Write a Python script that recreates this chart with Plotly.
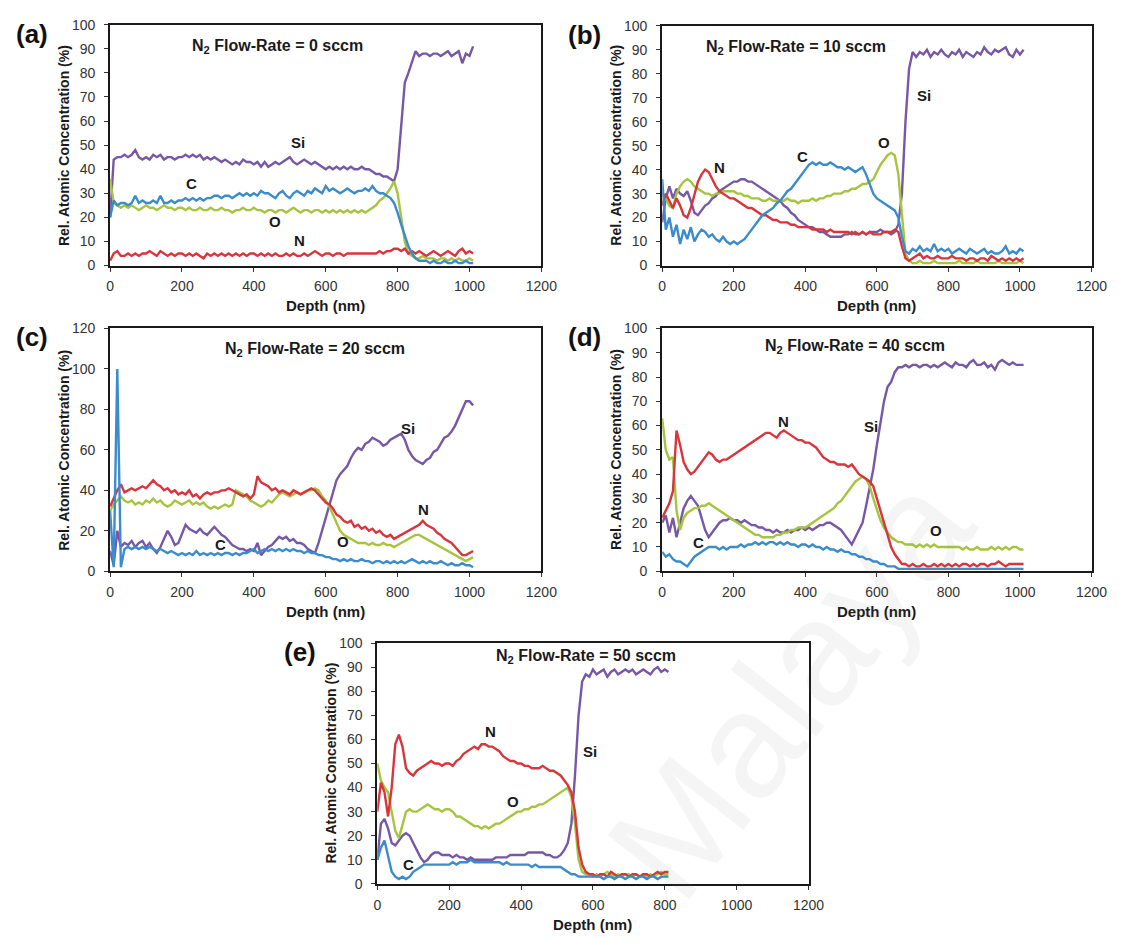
import plotly.graph_objects as go

# ---------------- data (depth in nm, concentrations in %) ----------------
depth_full = list(range(0, 1020, 10))   # 0 ... 1010
depth_e = list(range(0, 820, 10))       # 0 ... 810

# (a) N2 = 0 sccm
si_a = [20,44,45,45,46,45,46,48,45,44,
        45,44,46,45,46,44,45,45,44,45,
        45,46,45,46,45,46,44,45,44,45,
        44,43,44,43,42,43,42,44,43,43,
        42,43,41,43,41,42,43,42,43,44,
        45,43,42,43,44,43,42,43,42,41,
        40,41,40,41,40,41,40,41,40,40,
        41,40,40,39,38,38,37,37,36,35,
        40,58,76,80,85,89,87,88,88,87,
        88,88,87,88,89,87,88,89,84,88,
        87,91]
c_a = [20,27,25,26,26,25,26,29,26,27,
       26,26,27,26,29,26,26,27,26,27,
       27,28,27,28,27,28,27,28,28,29,
       29,28,29,29,28,29,30,29,30,29,
       30,29,31,30,30,29,28,30,31,29,
       28,30,31,30,29,31,30,32,31,30,
       33,31,32,31,30,31,32,31,30,31,
       31,32,31,33,31,30,30,29,28,26,
       22,17,12,8,5,3,2,2,2,1,
       2,1,1,2,1,1,2,1,1,2,
       1,1]
o_a = [36,26,25,24,25,24,25,24,23,24,
       25,24,24,23,24,25,24,24,23,24,
       24,23,24,23,23,24,23,23,24,23,
       23,24,23,23,22,23,23,24,23,23,
       24,23,23,22,23,23,22,23,23,22,
       23,24,23,22,23,23,22,23,23,22,
       23,22,23,22,23,22,23,22,23,22,
       23,22,23,24,25,27,28,30,32,35,
       30,20,10,5,4,3,3,4,3,3,
       3,2,3,3,2,3,2,3,2,2,
       3,2]
n_a = [2,5,6,4,4,5,4,5,4,5,
       5,6,5,4,6,5,4,5,4,5,
       5,4,5,4,5,4,3,5,4,5,
       4,5,4,5,4,5,4,5,4,5,
       5,4,5,4,5,4,5,4,4,5,
       4,5,4,4,5,4,5,6,5,4,
       5,5,4,5,5,4,5,5,5,5,
       5,5,5,5,5,6,5,6,6,7,
       7,6,7,5,6,5,6,5,4,5,
       6,5,4,5,6,5,4,6,7,5,
       6,5]

# (b) N2 = 10 sccm
si_b = [18,28,33,28,32,30,29,31,27,22,
        21,23,25,26,28,29,31,32,33,34,
        35,35,36,36,35,35,34,33,32,31,
        30,29,28,27,25,24,22,21,19,18,
        17,16,16,15,14,14,13,12,12,12,
        12,13,13,14,13,13,14,13,14,14,
        14,15,14,14,13,14,17,30,60,82,
        89,87,89,88,90,87,89,88,90,88,
        87,89,88,90,87,89,88,87,89,88,
        91,89,88,90,89,90,91,88,87,90,
        88,90]
c_b = [36,15,20,12,17,9,15,11,16,10,
       13,15,14,12,13,11,10,12,10,9,
       10,9,10,11,13,15,17,19,21,22,
       23,24,26,27,29,31,32,34,36,38,
       40,42,43,42,43,42,42,43,42,41,
       41,40,41,40,39,40,41,38,34,30,
       28,27,26,25,24,23,20,12,6,5,
       7,6,8,6,7,6,9,6,7,6,
       7,5,6,7,6,5,7,6,5,6,
       7,5,6,5,5,6,8,5,6,5,
       7,6]
o_b = [30,28,25,24,30,33,35,36,35,33,
       32,31,30,30,29,30,30,31,31,31,
       31,30,30,29,29,28,28,28,27,27,
       28,27,27,27,27,28,27,27,26,27,
       27,27,28,27,28,28,29,29,30,30,
       30,31,31,32,32,33,34,34,35,36,
       39,42,44,46,47,46,38,20,5,2,
       1,1,2,1,1,1,2,1,1,1,
       1,1,1,2,1,1,1,1,2,1,
       1,1,1,1,2,1,1,1,1,1,
       2,1]
n_b = [25,30,27,24,28,25,21,20,24,30,
       35,38,40,39,36,33,31,30,29,28,
       28,27,26,25,24,24,23,22,21,21,
       20,19,19,18,18,18,17,17,16,16,
       16,16,15,15,15,15,14,15,14,14,
       14,14,14,13,14,13,14,13,14,13,
       13,13,14,14,14,15,14,8,3,2,
       3,4,5,3,4,3,3,4,3,3,
       3,4,3,3,3,2,3,3,2,3,
       3,2,4,3,2,3,2,3,2,3,
       2,3]

# (c) N2 = 20 sccm
si_c = [10,3,20,12,14,13,15,12,14,15,
        12,14,11,9,12,16,20,17,13,14,
        19,23,21,20,19,21,19,18,20,22,
        20,18,17,15,13,12,11,11,10,11,
        10,14,8,10,12,13,15,17,16,17,
        15,16,14,14,13,11,10,9,14,20,
        27,33,39,45,48,50,52,56,59,61,
        60,63,64,66,65,64,62,63,65,66,
        67,68,65,60,57,55,54,53,55,56,
        59,60,63,66,67,69,72,76,80,84,
        84,82]
c_c = [30,2,100,2,11,12,11,12,11,12,
       11,12,11,10,11,10,9,10,9,8,
       9,8,9,8,10,8,9,8,9,8,
       9,8,9,9,8,9,8,9,9,10,
       11,9,10,11,10,11,10,11,10,11,
       10,11,10,10,9,10,9,9,8,8,
       7,7,6,6,5,6,5,6,5,5,
       6,5,5,4,5,5,4,5,4,5,
       4,5,4,5,6,5,4,5,4,5,
       4,4,5,4,3,4,3,3,4,3,
       3,2]
o_c = [30,33,35,37,35,34,35,33,34,33,
       35,34,36,34,35,33,32,33,35,34,
       33,34,35,33,34,33,34,32,31,32,
       31,32,33,32,33,40,39,38,37,35,
       34,33,32,33,35,34,36,38,39,38,
       37,38,39,38,39,40,40,41,40,37,
       35,32,28,24,20,18,17,16,15,14,
       14,14,13,14,13,13,14,13,13,12,
       13,14,15,16,17,18,18,17,16,15,
       14,13,12,11,10,9,8,7,6,5,
       6,7]
n_c = [32,36,40,43,39,40,41,40,41,42,
       41,43,45,43,42,40,41,39,40,38,
       39,38,40,37,38,36,38,39,38,39,
       39,40,40,41,40,39,38,37,38,36,
       38,47,44,43,42,40,41,39,40,39,
       38,40,39,38,39,40,41,40,38,36,
       34,33,31,28,27,25,24,25,22,23,
       21,22,20,21,19,20,18,17,18,16,
       17,18,19,20,21,22,23,25,23,22,
       21,19,18,16,15,14,12,10,8,8,
       9,10]

# (d) N2 = 40 sccm
si_d = [20,23,16,22,14,20,26,29,31,29,
        27,22,17,14,16,18,20,21,21,22,
        21,21,20,21,20,19,19,18,18,17,
        17,16,17,16,16,17,16,17,17,18,
        17,18,17,18,19,19,20,20,19,18,
        17,15,13,11,14,17,20,27,34,42,
        52,62,70,76,78,82,84,84,85,84,
        85,85,84,85,85,84,85,84,85,86,
        85,84,86,85,85,84,86,87,85,85,
        86,84,85,83,86,87,86,85,86,85,
        85,85]
c_d = [8,6,7,5,4,4,3,2,4,6,
       7,8,9,10,10,10,9,10,9,10,
       10,10,11,10,11,11,12,11,12,11,
       12,12,11,12,11,12,11,11,10,11,
       11,10,11,10,10,9,10,9,9,8,
       9,8,8,7,7,6,6,5,5,4,
       4,3,3,2,2,2,1,1,1,1,
       1,1,1,1,1,1,1,1,1,1,
       1,1,1,1,1,1,1,1,1,1,
       1,1,1,1,1,1,1,1,1,1,
       1,1]
o_d = [63,50,46,47,25,17,22,24,25,26,
       26,27,27,28,27,26,25,24,23,22,
       21,20,19,18,17,16,15,15,14,14,
       14,14,15,15,16,16,17,17,18,18,
       18,19,20,21,22,23,24,25,26,28,
       29,31,33,35,37,38,39,38,35,30,
       25,21,18,16,14,13,12,12,11,11,
       11,10,11,10,11,10,11,10,10,10,
       10,10,10,10,9,10,9,9,10,9,
       9,9,10,9,10,9,10,9,10,10,
       9,9]
n_d = [22,25,28,33,58,52,45,42,40,41,
       43,45,47,49,48,46,45,46,46,47,
       48,49,50,51,52,53,54,55,56,57,
       57,56,55,57,58,57,56,55,54,54,
       53,53,52,51,49,47,46,45,45,44,
       44,44,43,44,42,40,39,38,37,35,
       30,25,20,15,10,7,5,3,3,2,
       3,2,2,3,2,2,3,2,3,2,
       3,2,3,2,3,3,2,3,2,3,
       3,2,3,3,4,3,2,3,3,3,
       3,3]

# (e) N2 = 50 sccm
si_e = [10,25,27,23,17,16,18,20,21,20,
        17,14,11,9,10,12,13,13,12,12,
        12,11,12,11,11,10,11,10,10,10,
        10,10,10,11,11,11,11,12,12,12,
        12,12,13,13,13,13,13,12,12,11,
        11,12,14,17,25,45,70,84,87,86,
        89,87,88,89,86,88,89,87,88,89,
        88,89,87,88,89,88,87,89,90,88,
        89,88]
c_e = [10,15,18,12,5,3,2,3,2,3,
       5,6,7,8,8,8,8,8,8,8,
       8,9,8,9,9,9,10,9,9,9,
       9,9,9,9,9,8,9,8,8,8,
       8,8,8,7,8,7,7,7,7,7,
       7,7,6,5,4,4,3,3,3,3,
       3,3,3,2,3,3,2,3,3,2,
       3,3,2,3,3,2,3,3,2,3,
       3,3]
o_e = [50,43,40,38,30,22,19,25,30,31,
       30,30,31,32,33,32,31,31,30,31,
       31,30,28,28,27,26,25,24,24,23,
       24,23,24,25,25,26,27,28,29,30,
       30,31,31,32,32,33,33,34,35,36,
       37,38,39,40,36,25,10,5,4,4,
       3,4,3,4,5,4,3,4,3,4,
       4,3,4,3,4,3,4,3,4,5,
       4,4]
n_e = [30,42,38,28,40,58,62,57,48,46,
       45,47,48,49,50,51,50,50,49,50,
       50,49,51,52,54,55,56,57,56,58,
       58,57,57,56,55,53,52,51,51,50,
       50,49,49,48,48,48,49,48,47,47,
       46,45,43,41,38,30,15,8,5,4,
       4,3,4,4,3,5,4,3,4,4,
       3,4,4,3,4,4,3,4,5,4,
       5,5]

x_ticks = [0, 200, 400, 600, 800, 1000, 1200]
panel_letters = ["(a)", "(b)", "(c)", "(d)", "(e)"]
flow_rates = ["0", "10", "20", "40", "50"]
elements = ["Si", "O", "N", "C"]
colors = {"Si": "#7658a6", "C": "#3b8ccc", "O": "#a6c43e", "N": "#d8353d"}
watermark_text = "Malaya"

# label positions (data coordinates) per panel: element -> (depth, value)
labels = [
    {"Si": (522, 51), "C": (227, 34), "O": (458, 18.4), "N": (527, 10.5)},
    {"Si": (731, 70.7), "O": (620, 51.5), "C": (392, 45.4), "N": (159, 41)},
    {"Si": (828, 70.4), "N": (872, 30.7), "O": (648, 14.5), "C": (308, 13.4)},
    {"N": (339, 61.8), "Si": (585, 59.6), "O": (764, 16.7), "C": (101, 11.9)},
    {"N": (314, 63.2), "Si": (591, 54.9), "O": (378, 34.2), "C": (86, 8.1)},
]
title_pos = [(466, 91), (374, 90.8), (570, 109.5), (540, 92.5), (581, 94.3)]

panel_data = [
    (depth_full, {"Si": si_a, "C": c_a, "O": o_a, "N": n_a}),
    (depth_full, {"Si": si_b, "C": c_b, "O": o_b, "N": n_b}),
    (depth_full, {"Si": si_c, "C": c_c, "O": o_c, "N": n_c}),
    (depth_full, {"Si": si_d, "C": c_d, "O": o_d, "N": n_d}),
    (depth_e, {"Si": si_e, "C": c_e, "O": o_e, "N": n_e}),
]

# ---------------- layout geometry (pixels) ----------------
W, H = 1136, 943
boxes = [  # left, right, top, bottom
    (108, 547, 17, 262),
    (670, 1107, 18, 262),
    (108, 547, 326, 573),
    (670, 1107, 326, 573),
    (380, 819, 646, 891),
]
yranges = [(0, 100, 10), (0, 100, 10), (0, 120, 20), (0, 100, 10), (0, 100, 10)]

FONT = "Liberation Sans, Arial, Helvetica, sans-serif"
fig = go.Figure()
annotations = []
layout_axes = {}

for i in range(5):
    xa = "x" if i == 0 else f"x{i+1}"
    ya = "y" if i == 0 else f"y{i+1}"
    xname = "xaxis" if i == 0 else f"xaxis{i+1}"
    yname = "yaxis" if i == 0 else f"yaxis{i+1}"
    l, r, t, b = boxes[i]
    y0, y1, dt = yranges[i]
    axis_common = dict(showline=True, mirror=True, linecolor="#1a1a1a", linewidth=2,
                       ticks="outside", ticklen=4, tickwidth=1, tickcolor="#333",
                       showgrid=False, zeroline=False,
                       tickfont=dict(family=FONT, size=14, color="#333"))
    layout_axes[xname] = dict(domain=[l / W, r / W], range=[0, 1200], tickmode="array",
                              tickvals=x_ticks, anchor=ya, ticklabelstandoff=3, **axis_common)
    layout_axes[yname] = dict(domain=[1 - b / H, 1 - t / H], range=[y0, y1], dtick=dt,
                              tick0=0, anchor=xa, ticklabelstandoff=6, **axis_common)

    depth, series = panel_data[i]
    for el in elements:
        fig.add_trace(go.Scatter(x=depth, y=series[el], mode="lines", xaxis=xa, yaxis=ya,
                                 line=dict(color=colors[el], width=2.4), name=el,
                                 showlegend=False, hoverinfo="skip"))

    # element labels
    for el, (lx, lyv) in labels[i].items():
        annotations.append(dict(x=lx, y=lyv, xref=xa, yref=ya, text=f"<b>{el}</b>",
                                showarrow=False, font=dict(family=FONT, size=15, color="#1a1a1a")))
    # panel title
    tx, ty = title_pos[i]
    annotations.append(dict(x=tx, y=ty, xref=xa, yref=ya,
                            text=f"<b>N<sub>2</sub> Flow-Rate = {flow_rates[i]} sccm</b>",
                            showarrow=False, font=dict(family=FONT, size=16, color="#1a1a1a")))
    # panel letter
    annotations.append(dict(x=(l - 79) / W, y=1 - (t + 9) / H, xref="paper", yref="paper",
                            text=f"<b>{panel_letters[i]}</b>", showarrow=False,
                            xanchor="center", yanchor="middle",
                            font=dict(family=FONT, size=26, color="#111")))
    # y-axis title
    annotations.append(dict(x=(l - 47) / W, y=1 - ((t + b) / 2) / H, xref="paper", yref="paper",
                            text="<b>Rel. Atomic Concentration (%)</b>", textangle=-90,
                            showarrow=False, xanchor="center", yanchor="middle",
                            font=dict(family=FONT, size=14, color="#1a1a1a")))
    # x-axis title
    annotations.append(dict(x=((l + r) / 2) / W, y=1 - (b + 41) / H, xref="paper", yref="paper",
                            text="<b>Depth (nm)</b>", showarrow=False,
                            xanchor="center", yanchor="middle",
                            font=dict(family=FONT, size=15, color="#1a1a1a")))

# faint diagonal watermark
annotations.append(dict(x=800 / W, y=1 - 690 / H, xref="paper", yref="paper",
                        text=watermark_text, textangle=-52, showarrow=False,
                        xanchor="center", yanchor="middle",
                        font=dict(family=FONT, size=150, color="rgba(120,120,120,0.07)")))

fig.update_layout(width=W, height=H, margin=dict(l=0, r=0, t=0, b=0),
                  paper_bgcolor="white", plot_bgcolor="white",
                  annotations=annotations, showlegend=False, **layout_axes)

fig.write_html("out.html")
